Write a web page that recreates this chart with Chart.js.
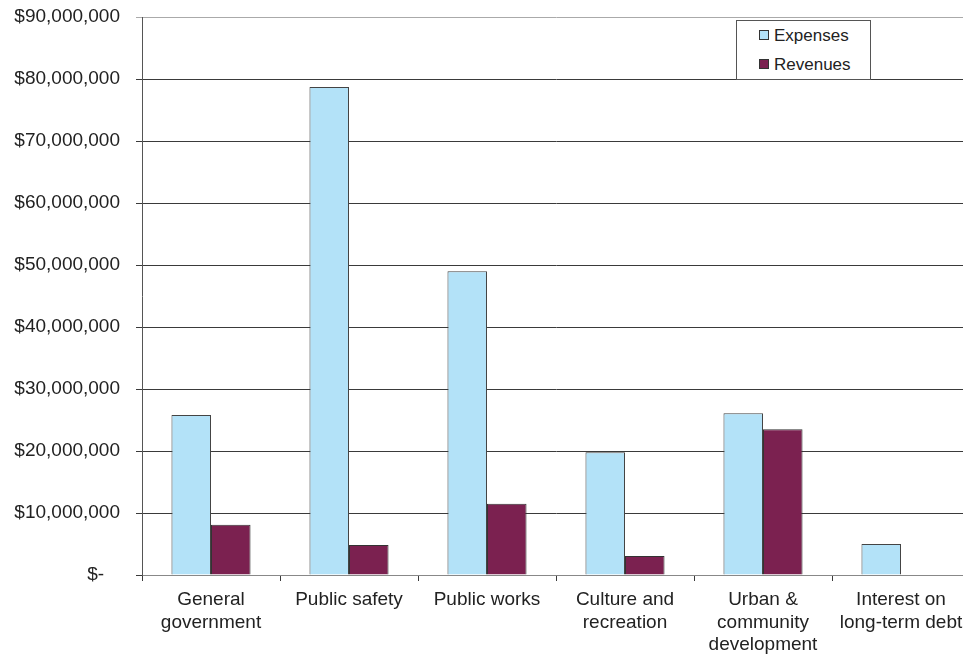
<!DOCTYPE html>
<html>
<head>
<meta charset="utf-8">
<script src="https://cdn.jsdelivr.net/npm/chart.js@4/dist/chart.umd.min.js"></script>
<style>
  html, body { margin: 0; padding: 0; background: #fff; overflow: hidden; }
  #wrap { position: relative; width: 963px; height: 656px; overflow: hidden; }
  #legend {
    position: absolute; left: 736px; top: 20px; width: 133px; height: 58px;
    border: 1px solid #555; background: #fff;
    font-family: 'Liberation Sans', Arial, sans-serif; font-size: 17px; color: #222;
  }
  .item { position: absolute; left: 22px; height: 20px; line-height: 20px; }
  .sw { display: inline-block; width: 8px; height: 8px; border: 1px solid #333; margin-right: 5px; vertical-align: 1px; }
</style>
</head>
<body>
<div id="wrap">
  <canvas id="chart" width="980" height="656"></canvas>
  <div id="legend">
    <div class="item" style="top:5px"><span class="sw" style="background:#b3e2f8"></span>Expenses</div>
    <div class="item" style="top:34px"><span class="sw" style="background:#7b2150"></span>Revenues</div>
  </div>
</div>
<script>
'use strict';

// values
const CATEGORIES = [
  ['General', 'government'],
  'Public safety',
  'Public works',
  ['Culture and', 'recreation'],
  ['Urban &', 'community', 'development'],
  ['Interest on', 'long-term debt'],
];
const EXPENSES = [25800000, 78700000, 49000000, 19800000, 26100000, 5000000];
const REVENUES = [8100000, 4850000, 11500000, 3050000, 23500000, null];
const Y_TICKS = [0, 10000000, 20000000, 30000000, 40000000, 50000000, 60000000, 70000000, 80000000, 90000000];

const FONT = { family: "'Liberation Sans', Arial, sans-serif", size: 19 };
const LINE = '#3a3a3a';

const fmtMoney = (v) => (v === 0 ? '$-   ' : '$' + v.toLocaleString('en-US'));

const chartConfig = {
  type: 'bar',
  data: {
    labels: CATEGORIES,
    datasets: [
      {
        label: 'Expenses',
        data: EXPENSES,
        backgroundColor: '#b3e2f8',
        borderColor: '#444',
        borderWidth: 1,
      },
      {
        label: 'Revenues',
        data: REVENUES,
        backgroundColor: '#7b2150',
        borderColor: '#333',
        borderWidth: 1,
      },
    ],
  },
  options: {
    responsive: false,
    animation: false,
    layout: { padding: { top: 17, right: 10, left: 0, bottom: 0 } },
    datasets: {
      bar: { categoryPercentage: 0.573, barPercentage: 1.0 },
    },
    scales: {
      x: {
        grid: {
          offset: true,
          drawOnChartArea: false,
          tickLength: 6,
          color: LINE,
        },
        border: { display: true, color: '#888' },
        ticks: {
          color: '#222',
          font: { ...FONT, lineHeight: 1.18 },
          padding: 8,
          maxRotation: 0,
          autoSkip: false,
        },
        afterFit: (scale) => {
          scale.height = 81;
          scale.paddingLeft = 0;
          scale.paddingRight = 0;
        },
      },
      y: {
        min: 0,
        max: 90000000,
        afterBuildTicks: (scale) => { scale.ticks = Y_TICKS.map((v) => ({ value: v })); },
        grid: {
          color: (ctx) => (ctx.tick && ctx.tick.value === 90000000 ? '#aaa' : LINE),
          tickLength: 6,
        },
        border: { display: true, color: '#555' },
        ticks: {
          color: '#222',
          font: FONT,
          padding: 16,
          callback: (v) => fmtMoney(v),
        },
        afterFit: (scale) => {
          scale.width = 142;
          scale.paddingTop = 0;
          scale.paddingBottom = 0;
        },
      },
    },
    plugins: {
      legend: { display: false },
      tooltip: { enabled: false },
    },
  },
};

new Chart(document.getElementById('chart'), chartConfig);
</script>
</body>
</html>
